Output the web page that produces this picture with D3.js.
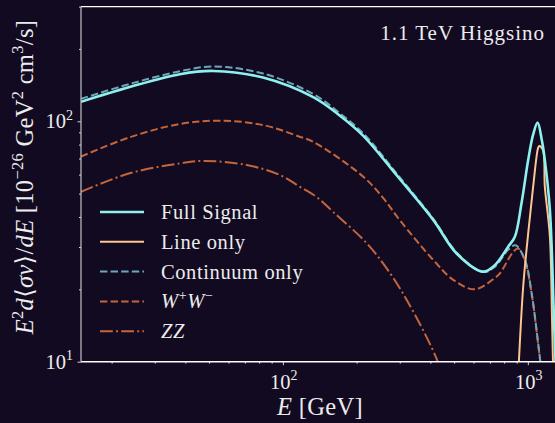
<!DOCTYPE html>
<html>
<head>
<meta charset="utf-8">
<script src="https://cdn.jsdelivr.net/npm/d3@7"></script>
<style>
    html, body { margin: 0; padding: 0; background: #120a21; }
    svg { display: block; font-family: "Liberation Serif", "DejaVu Serif", serif; }
</style>
</head>
<body>
<script>
//values: energy in GeV, E^2 dN/dE in 1e-26 GeV^2 cm^3/s
var fullE = [15, 23.7, 38, 52, 83, 133, 170, 213, 296, 411, 512, 657, 733, 831, 885, 942, 1003, 1050, 1096, 1140, 1173, 1230, 1280, 1320];
var fullV = [120.6, 138.9, 157, 162, 152, 126, 106, 87, 58.5, 38.9, 28.2, 23.7, 25.2, 30.1, 33.1, 45.6, 69, 87.8, 98.7, 83.6, 69, 42.8, 14.5, 6];

var lineE = [890, 919, 957, 1003, 1051, 1100, 1112, 1152, 1173, 1230, 1255, 1280];
var lineV = [5, 10, 20.5, 34.2, 53.5, 77.3, 78.9, 76, 53.5, 33.1, 15, 6];

var contE = [15, 23.7, 38, 52, 83, 133, 170, 213, 296, 411, 512, 657, 733, 831, 890, 973, 1036, 1102, 1124, 1180];
var contV = [124, 143, 161.5, 169, 158, 130, 108.5, 89, 59.5, 39.3, 28.5, 23.6, 24.8, 29.2, 30.5, 26.5, 19.3, 11.9, 10, 6];

var wwE = [15, 23.7, 38, 55, 83, 117, 133, 213, 257, 300, 411, 496, 608, 733, 769, 871, 912, 973, 1036, 1102, 1124, 1180];
var wwV = [71.3, 85.8, 97.5, 100.6, 96.5, 86.3, 82.2, 58.8, 47.9, 38.8, 26.5, 21.9, 20.0, 22.3, 23.3, 28.6, 29.6, 26.3, 19.2, 11.8, 10, 6];

var zzE = [15, 23.7, 38, 47.3, 71.1, 97.2, 117, 137, 160, 220, 265, 320, 429, 500];
var zzV = [50.9, 60.8, 66.8, 68.4, 65.8, 59.8, 53.5, 48.5, 42.1, 31.1, 24.5, 18.1, 10, 6];

var xTicks = [100, 1000];
var yTicks = [10, 100];
var legendNames = ["Full Signal", "Line only", "Continuum only", "W+W-", "ZZ"];

window.onload = drawChart();

function drawChart(){
    var width = 555,
        height = 423;

    //plot frame, the right edge runs off the picture
    var left = 81, top = 6.6, bottom = 361.7;
    var decadeX = 245, decadeY = 240.4;

    var svg = d3.select("body")
        .append("svg")
        .attr("width", width)
        .attr("height", height);

    svg.append("rect")
        .attr("width", width)
        .attr("height", height)
        .attr("fill", "#120a21");

    var x = d3.scaleLog()
        .domain([15, 1600])
        .range([left, left + decadeX * Math.log10(1600 / 15)]);

    var y = d3.scaleLog()
        .domain([10, 300])
        .range([bottom, bottom - decadeY * Math.log10(30)]);

    svg.append("clipPath")
        .attr("id", "plotClip")
        .append("rect")
        .attr("x", left)
        .attr("y", top)
        .attr("width", width - left + 20)
        .attr("height", bottom - top);

    //series styles
    var series = [
        {e: wwE, v: wwV, color: "#c4653c", width: 2, dash: "7.4,3.2"},
        {e: zzE, v: zzV, color: "#c4653c", width: 2, dash: "12.8,3.2,2,3.2"},
        {e: contE, v: contV, color: "#6fa7ba", width: 2, dash: "7.4,3.2"},
        {e: lineE, v: lineV, color: "#fdc58f", width: 2, dash: null},
        {e: fullE, v: fullV, color: "#8ff1ee", width: 2.6, dash: null}
    ];

    var line = d3.line()
        .x(function(d){ return x(d[0]); })
        .y(function(d){ return y(d[1]); })
        .curve(d3.curveCatmullRom.alpha(0.5));

    var plot = svg.append("g")
        .attr("clip-path", "url(#plotClip)");

    series.forEach(function(s){
        plot.append("path")
            .datum(d3.zip(s.e, s.v))
            .attr("fill", "none")
            .attr("stroke", s.color)
            .attr("stroke-width", s.width)
            .attr("stroke-dasharray", s.dash)
            .attr("d", line);
    });

    //axes with log ticks, labels drawn by hand for the superscripts
    var xAxis = d3.axisBottom(x)
        .tickValues(d3.range(2, 10).map(function(k){ return k * 10; })
            .concat(d3.range(1, 10).map(function(k){ return k * 100; }), [1000]))
        .tickSize(2)
        .tickFormat("");
    var gx = svg.append("g")
        .attr("transform", "translate(0," + bottom + ")")
        .call(xAxis);
    gx.selectAll(".tick line")
        .attr("y2", function(d){ return xTicks.indexOf(d) >= 0 ? 3.5 : 2; });

    var yAxis = d3.axisLeft(y)
        .tickValues(d3.range(1, 10).map(function(k){ return k * 10; }).concat([100, 200, 300]))
        .tickSize(2)
        .tickFormat("");
    var gy = svg.append("g")
        .attr("transform", "translate(" + left + ",0)")
        .call(yAxis);
    gy.selectAll(".tick line")
        .attr("x2", function(d){ return yTicks.indexOf(d) >= 0 ? -3.5 : -2; });

    svg.selectAll(".domain").remove();
    svg.selectAll(".tick line").attr("stroke", "#e6e6e6").attr("stroke-width", 0.9);

    //spines
    svg.append("line").attr("x1", left).attr("x2", width).attr("y1", top).attr("y2", top)
        .attr("stroke", "#ffffff").attr("stroke-width", 1.4);
    svg.append("line").attr("x1", left).attr("x2", width).attr("y1", bottom).attr("y2", bottom)
        .attr("stroke", "#ffffff").attr("stroke-width", 1.4);
    svg.append("line").attr("x1", left).attr("x2", left).attr("y1", top).attr("y2", bottom)
        .attr("stroke", "#c4c4ca").attr("stroke-width", 1.2);

    var textColor = "#ececec";

    //tick labels
    xTicks.forEach(function(t){
        var lab = svg.append("text")
            .attr("x", x(t) + 1)
            .attr("y", bottom + 27)
            .attr("text-anchor", "middle")
            .attr("fill", textColor)
            .attr("font-size", 20.5);
        lab.append("tspan").text("10");
        lab.append("tspan").attr("dy", -8.5).attr("font-size", 14).text(Math.log10(t));
    });
    yTicks.forEach(function(t){
        var lab = svg.append("text")
            .attr("x", left - 8)
            .attr("y", y(t) + 7)
            .attr("text-anchor", "end")
            .attr("fill", textColor)
            .attr("font-size", 20.5);
        lab.append("tspan").text("10");
        lab.append("tspan").attr("dy", -8.5).attr("font-size", 14).text(Math.log10(t));
    });

    //x label
    var xl = svg.append("text")
        .attr("x", 320)
        .attr("y", 415)
        .attr("text-anchor", "middle")
        .attr("fill", textColor)
        .attr("font-size", 24.5)
        .attr("letter-spacing", 0.3);
    xl.append("tspan").attr("font-style", "italic").text("E");
    xl.append("tspan").text(" [GeV]");

    //y label
    var yl = svg.append("text")
        .attr("transform", "translate(33,177) rotate(-90)")
        .attr("text-anchor", "middle")
        .attr("fill", textColor)
        .attr("font-size", 24.5)
        .attr("letter-spacing", 0.3);
    var parts = [
        ["E", "italic", 0, 24.5], ["2", "normal", -10, 16.5], ["d", "italic", 10, 24.5], ["\u27E8", "normal", 0, 24.5],
        ["\u03C3v", "italic", 0, 24.5], ["\u27E9/", "normal", 0, 24.5], ["dE", "italic", 0, 24.5],
        [" [10", "normal", 0, 24.5], ["\u221226", "normal", -10, 16.5], [" GeV", "normal", 10, 24.5],
        ["2", "normal", -10, 16.5], [" cm", "normal", 10, 24.5], ["3", "normal", -10, 16.5], ["/s]", "normal", 10, 24.5]
    ];
    parts.forEach(function(p){
        yl.append("tspan")
            .attr("font-style", p[1])
            .attr("dy", p[2])
            .attr("font-size", p[3])
            .text(p[0]);
    });

    //annotation
    svg.append("text")
        .attr("x", 545)
        .attr("y", 40)
        .attr("text-anchor", "end")
        .attr("fill", textColor)
        .attr("font-size", 21)
        .attr("letter-spacing", 1)
        .text("1.1 TeV Higgsino");

    //legend
    var legend = svg.append("g")
        .attr("transform", "translate(100,212)");
    var legendStyle = [series[4], series[3], series[2], series[0], series[1]];
    legendNames.forEach(function(name, i){
        var s = legendStyle[i];
        var row = legend.append("g")
            .attr("transform", "translate(0," + (i * 29.8) + ")");
        row.append("line")
            .attr("x1", 0).attr("x2", 44)
            .attr("stroke", s.color)
            .attr("stroke-width", s.width)
            .attr("stroke-dasharray", s.dash);
        var t = row.append("text")
            .attr("x", 61)
            .attr("y", 7)
            .attr("fill", textColor)
            .attr("font-size", 20.5)
            .attr("letter-spacing", 0.6);
        if (name == "W+W-"){
            t.append("tspan").attr("font-style", "italic").text("W");
            t.append("tspan").attr("dy", -8).attr("font-size", 14).text("+");
            t.append("tspan").attr("dy", 8).attr("font-style", "italic").text("W");
            t.append("tspan").attr("dy", -8).attr("font-size", 14).text("\u2212");
        } else if (name == "ZZ"){
            t.append("tspan").attr("font-style", "italic").text("ZZ");
        } else {
            t.text(name);
        }
    });
};
</script>
</body>
</html>
